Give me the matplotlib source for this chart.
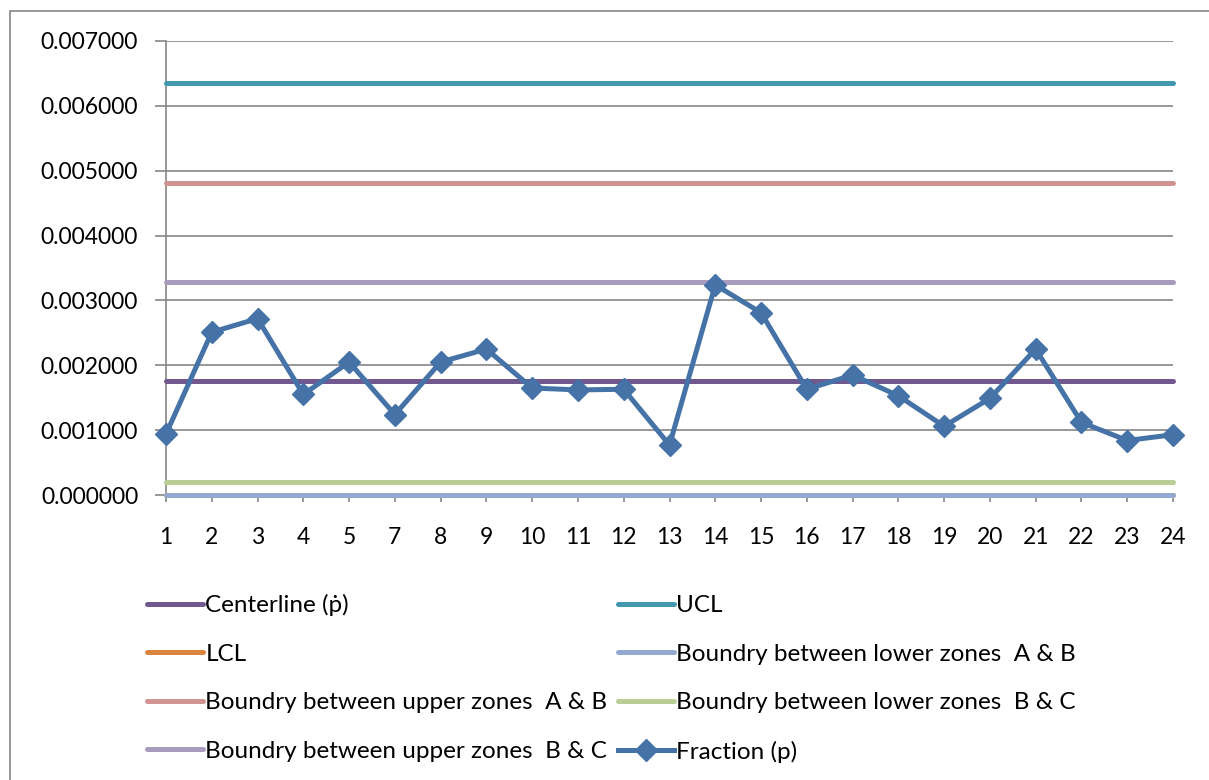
import matplotlib
matplotlib.use("Agg")
import matplotlib.pyplot as plt
from matplotlib.patches import Rectangle
from matplotlib.ticker import FormatStrFormatter

categories = ["1", "2", "3", "4", "5", "7", "8", "9", "10", "11", "12", "13",
              "14", "15", "16", "17", "18", "19", "20", "21", "22", "23", "24"]
fraction = [0.00094, 0.00251, 0.00272, 0.00155, 0.00205, 0.00124, 0.00205,
            0.00225, 0.00165, 0.00162, 0.00163, 0.00077, 0.00324, 0.00281,
            0.00163, 0.00185, 0.00153, 0.00106, 0.00149, 0.00225, 0.00112,
            0.00084, 0.00093]
centerline = 0.00175
ucl = 0.00635
lcl = 0.0
lower_ab = 0.0
upper_ab = 0.00481
lower_bc = 0.00020
upper_bc = 0.00328

plt.rcParams['font.family'] = ['Lato', 'DejaVu Sans']

W, H = 1209, 780
fig = plt.figure(figsize=(W / 100, H / 100), dpi=100)
fig.patches.append(Rectangle((10 / W, -0.1), 1.5, 1 - 11 / H + 0.1, transform=fig.transFigure,
                             fill=False, edgecolor='#868686', linewidth=1.2))

left, right, top, bottom = 166, 1173, 41, 495
ax = fig.add_axes([left / W, 1 - bottom / H, (right - left) / W, (bottom - top) / H])

x = list(range(len(categories)))
n = len(categories)
lw = 3.6
series = [
    ("Centerline (ṗ)", [centerline] * n, '#71588F'),
    ("UCL", [ucl] * n, '#4198AF'),
    ("LCL", [lcl] * n, '#DB843D'),
    ("Boundry between lower zones  A & B", [lower_ab] * n, '#93A9CF'),
    ("Boundry between upper zones  A & B", [upper_ab] * n, '#D19392'),
    ("Boundry between lower zones  B & C", [lower_bc] * n, '#B9CD96'),
    ("Boundry between upper zones  B & C", [upper_bc] * n, '#A99BBD'),
]
handles = {}
for name, vals, col in series:
    h, = ax.plot(x, vals, color=col, lw=lw, solid_capstyle='round', clip_on=False, zorder=3)
    handles[name] = h
h, = ax.plot(x, fraction, color='#4572A7', lw=lw, marker='D', markersize=11.5,
             markeredgecolor='#4572A7', clip_on=False, zorder=4, solid_joinstyle='round')
handles["Fraction (p)"] = h

ax.set_xlim(0, n - 1)
ax.set_ylim(0, 0.007)
ax.set_yticks([i * 0.001 for i in range(8)])
ax.yaxis.set_major_formatter(FormatStrFormatter('%.6f'))
ax.set_xticks(x)
ax.set_xticklabels(categories)
ax.grid(axis='y', color='#868686', lw=1.2)
ax.set_axisbelow(True)
for s in ['top', 'right']:
    ax.spines[s].set_visible(False)
ax.spines['left'].set_color('#868686')
ax.spines['left'].set_linewidth(1.2)
ax.spines['bottom'].set_color('#868686')
ax.spines['bottom'].set_linewidth(1.2)
ax.tick_params(axis='y', direction='out', length=8, width=1.2, color='#868686',
               labelsize=16.5, pad=12)
ax.tick_params(axis='x', direction='out', length=5, width=1.2, color='#868686',
               labelsize=16.5, pad=18)

order = ["Centerline (ṗ)", "LCL", "Boundry between upper zones  A & B",
         "Boundry between upper zones  B & C", "UCL",
         "Boundry between lower zones  A & B", "Boundry between lower zones  B & C",
         "Fraction (p)"]
leg = fig.legend([handles[k] for k in order], order, ncol=2, loc='upper left',
                 bbox_to_anchor=(147 / W, 1 - 594 / H), frameon=False,
                 fontsize=17.5, handlelength=2.3, handletextpad=0.1,
                 columnspacing=0.42, labelspacing=1.13, borderaxespad=0,
                 borderpad=0)

fig.savefig("out.png", dpi=100)
